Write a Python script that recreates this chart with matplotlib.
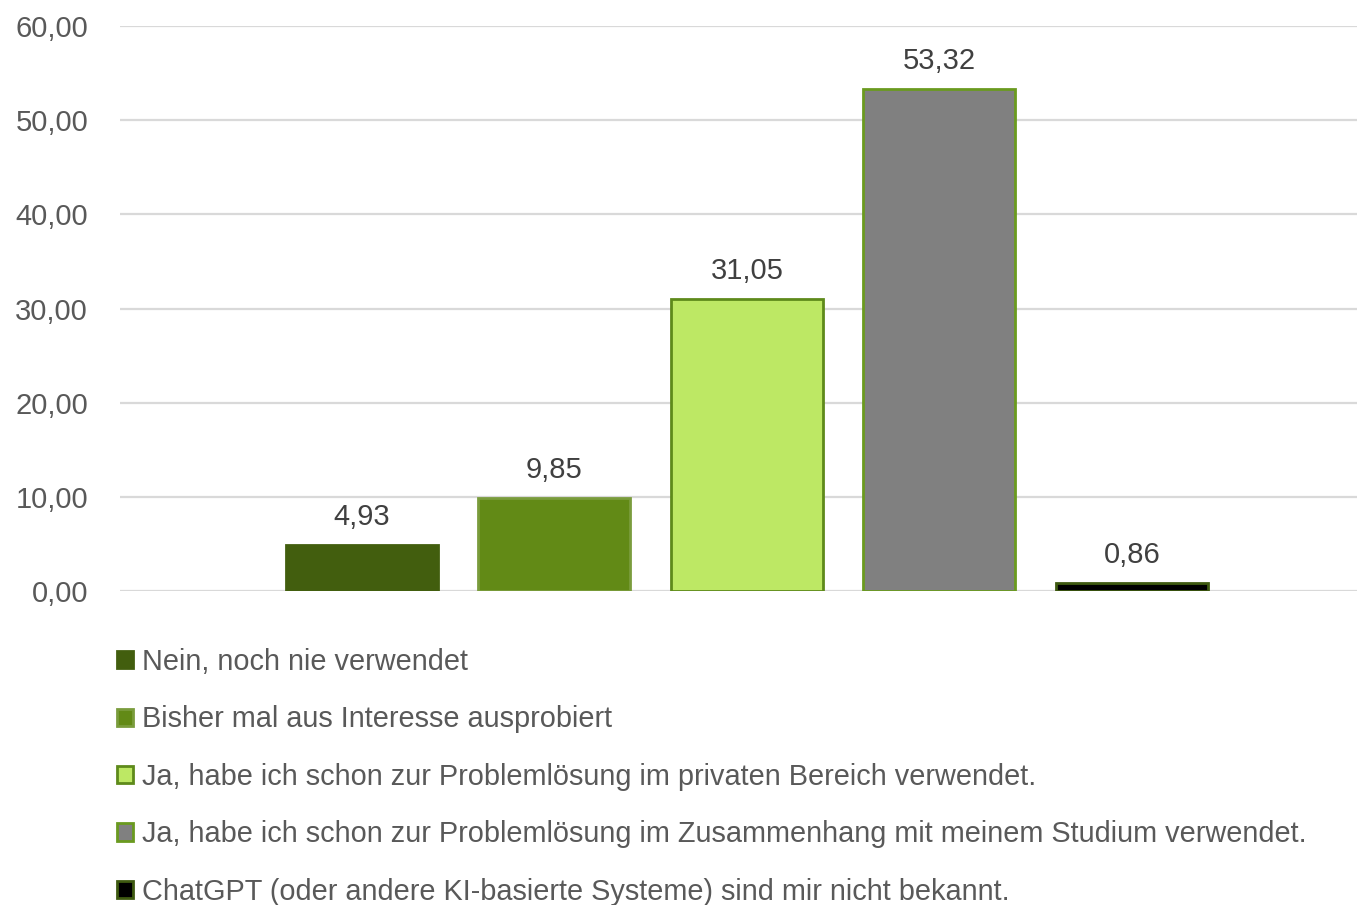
import matplotlib
matplotlib.use("Agg")
import matplotlib.pyplot as plt
from matplotlib.patches import Patch

# data
labels = [
    "Nein, noch nie verwendet",
    "Bisher mal aus Interesse ausprobiert",
    "Ja, habe ich schon zur Problemlösung im privaten Bereich verwendet.",
    "Ja, habe ich schon zur Problemlösung im Zusammenhang mit meinem Studium verwendet.",
    "ChatGPT (oder andere KI-basierte Systeme) sind mir nicht bekannt.",
]
values = [4.93, 9.85, 31.05, 53.32, 0.86]
yticks = [0, 10, 20, 30, 40, 50, 60]

fills = ["#425E0E", "#628A16", "#BDE864", "#808080", "#000000"]
edges = ["#425E0E", "#7A9C3C", "#5E8A1B", "#6A9A1F", "#3E5A10"]

plt.rcParams["font.family"] = ["Liberation Sans Narrow", "Liberation Sans", "DejaVu Sans"]

W, H = 1357, 905
fig = plt.figure(figsize=(W / 100, H / 100), dpi=100)
ax = fig.add_axes([120 / W, 1 - 591 / H, 1 - 120 / W, (591 - 26) / H])

x = list(range(len(values)))
bars = ax.bar(x, values, width=0.79, color=fills, edgecolor=edges, linewidth=2, zorder=3)

for xi, v in zip(x, values):
    ax.annotate(f"{v:.2f}".replace(".", ","), (xi, v), xytext=(0, 10),
                textcoords="offset points", ha="center", va="bottom",
                fontsize=21, color="#404040")

ax.set_ylim(0, 60)
ax.set_xlim(-1.257, 5.17)
ax.set_yticks(yticks)
ax.set_yticklabels([f"{t:.2f}".replace(".", ",") for t in yticks], fontsize=21, color="#595959")
ax.set_xticks([])
ax.tick_params(axis="y", length=0, pad=23)
ax.grid(axis="y", color="#D9D9D9", linewidth=1.6, zorder=0)
for s in ax.spines.values():
    s.set_visible(False)

handles = [Patch(facecolor=f, edgecolor=e, linewidth=2) for f, e in zip(fills, edges)]
fig.legend(handles, labels, loc="upper left", bbox_to_anchor=(117 / W, 1 - 648 / H),
           frameon=False, fontsize=20.8, labelcolor="#595959",
           handlelength=0.55, handleheight=0.55, handletextpad=0.3,
           labelspacing=1.02, borderpad=0, borderaxespad=0)

fig.savefig("out.png", dpi=100)
